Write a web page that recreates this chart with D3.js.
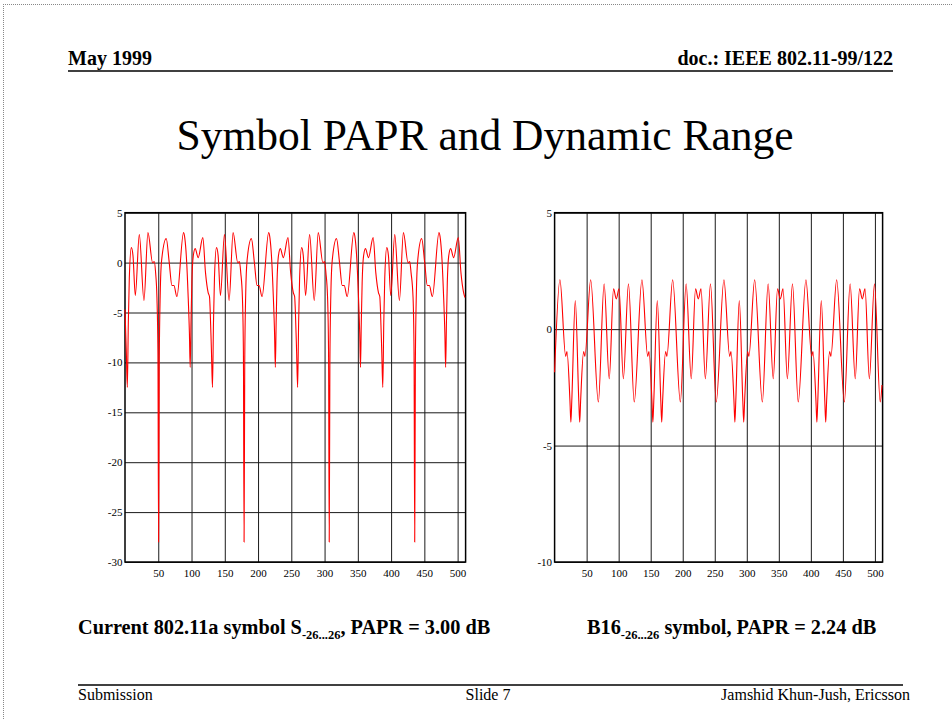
<!DOCTYPE html>
<html>
<head>
<meta charset="utf-8">
<style>
  body { margin: 0; background: #fff; }
  svg { display: block; font-family: "Liberation Serif", "Times New Roman", serif; }
  .tick line { stroke: #1a1a1a; stroke-width: 1; }
  .tick text { font-family: "Liberation Serif", "Times New Roman", serif; font-size: 11px; fill: #000; }
  .domain { display: none; }
  .wave { fill: none; stroke: #ff0000; stroke-width: 1.1; }
</style>
</head>
<body>
<svg width="952" height="720"></svg>

<script src="https://d3js.org/d3.v7.min.js"></script>
<script>
// [sample, dB]
const leftSignal = [
  [0,-4.7],[2,-9],[3.5,-12.5],[5,-6],[6.5,-1.5],[9.5,1.5],[12,0.7],[15.5,-3.3],[21.5,2.8],[28.5,-3.8],
  [34.5,3.0],[41.5,0.0],[44,0.1],[46,-1.0],[48,-3.5],[49.5,-9],[50.5,-28],[51.5,-10],[53,-3],[55,0.2],
  [62,2.4],[66.5,0],[70.5,-2.3],[73.5,-2.3],[78,-3.4],[88,3.0],[90,2.4],[92.5,0.3],[95,-3.5],[96.8,-7],
  [98,-10.5],[99.2,-6],[100.5,-2],[102.5,0.6],[105.5,1.4],[110,0.5],[117,2.5],[121,-1.0],[125,-3.0],[127,-3.4],
  [128,-4.7],[130,-9],[131.5,-12.5],[133,-6],[134.5,-1.5],[137.5,1.5],[140,0.7],[143.5,-3.3],[149.5,2.8],[156.5,-3.8],
  [162.5,3.0],[169.5,0.0],[172,0.1],[174,-1.0],[176.5,-3.5],[178,-9],[179,-28],[180,-10],[181.5,-3],[183.5,0.2],
  [190,2.4],[194.5,0],[198.5,-2.3],[201.5,-2.3],[206,-3.4],[216,3.0],[218,2.4],[220.5,0.3],[223,-3.5],[224.8,-7],
  [226,-10.5],[227.2,-6],[228.5,-2],[230.5,0.6],[233.5,1.4],[238,0.5],[245,2.5],[249,-1.0],[253,-3.0],[255,-3.4],
  [256,-4.7],[258,-9],[259.5,-12.5],[261,-6],[262.5,-1.5],[265.5,1.5],[268,0.7],[271.5,-3.3],[277.5,2.8],[284.5,-3.8],
  [290.5,3.0],[297.5,0.0],[300,0.1],[302,-1.0],[304.5,-3.5],[306,-9],[307,-28],[308,-10],[309.5,-3],[311.5,0.2],
  [318,2.4],[322.5,0],[326.5,-2.3],[329.5,-2.3],[334,-3.4],[344,3.0],[346,2.4],[348.5,0.3],[351,-3.5],[352.8,-7],
  [354,-10.5],[355.2,-6],[356.5,-2],[358.5,0.6],[361.5,1.4],[366,0.5],[373,2.5],[377,-1.0],[381,-3.0],[383,-3.4],
  [384,-4.7],[386,-9],[387.5,-12.5],[389,-6],[390.5,-1.5],[393.5,1.5],[396,0.7],[399.5,-3.3],[405.5,2.8],[412.5,-3.8],
  [418.5,3.0],[425.5,0.0],[428,0.1],[430,-1.0],[433,-3.5],[434.5,-9],[435.5,-28],[436.5,-10],[438,-3],[440,0.2],
  [446,2.4],[450.5,0],[454.5,-2.3],[457.5,-2.3],[462,-3.4],[472,3.0],[474,2.4],[476.5,0.3],[479,-3.5],[480.8,-7],
  [482,-10.5],[483.2,-6],[484.5,-2],[486.5,0.6],[489.5,1.4],[494,0.5],[501,2.5],[505,-1.0],[509,-3.0],[511,-3.5]
];

const rightSignal = [
  [0,-1.85],[8.3,2.12],[17.3,-1.17],[19.3,-0.96],[24,-3.1],[25.4,-4.0],[26.8,-3.1],[32.3,1.23],[37.8,-3.1],[39.2,-4.0],
  [40.6,-3.1],[45.3,-0.96],[47.3,-1.17],[56.3,2.12],[68.3,-3.13],[77.3,1.95],[85.3,-2.13],[92,1.73],[96.3,1.3],[100.6,1.73],
  [107.3,-2.13],[115.3,1.95],[124.3,-3.13],
  [136.3,2.12],[145.3,-1.17],[147.3,-0.96],[152,-3.1],[153.4,-4.0],[154.8,-3.1],[160.3,1.23],[165.8,-3.1],[167.2,-4.0],
  [168.6,-3.1],[173.3,-0.96],[175.3,-1.17],[184.3,2.12],[196.3,-3.13],[205.3,1.95],[213.3,-2.13],[220,1.73],[224.3,1.3],
  [228.6,1.73],[235.3,-2.13],[243.3,1.95],[252.3,-3.13],
  [264.3,2.12],[273.3,-1.17],[275.3,-0.96],[280,-3.1],[281.4,-4.0],[282.8,-3.1],[288.3,1.23],[293.8,-3.1],[295.2,-4.0],
  [296.6,-3.1],[301.3,-0.96],[303.3,-1.17],[312.3,2.12],[324.3,-3.13],[333.3,1.95],[341.3,-2.13],[348,1.73],[352.3,1.3],
  [356.6,1.73],[363.3,-2.13],[371.3,1.95],[380.3,-3.13],
  [392.3,2.12],[401.3,-1.17],[403.3,-0.96],[408,-3.1],[409.4,-4.0],[410.8,-3.1],[416.3,1.23],[421.8,-3.1],[423.2,-4.0],
  [424.6,-3.1],[429.3,-0.96],[431.3,-1.17],[440.3,2.12],[452.3,-3.13],[461.3,1.95],[469.3,-2.13],[476,1.73],[480.3,1.3],
  [484.6,1.73],[491.3,-2.13],[499.3,1.95],[508.3,-3.13],[511,-2.4]
];

const sampleTicks = [50, 100, 150, 200, 250, 300, 350, 400, 450, 500];
const leftDbTicks = [5, 0, -5, -10, -15, -20, -25, -30];
const rightDbTicks = [5, 0, -5, -10];

const svg = d3.select("svg");

// dotted slide border
svg.append("line").attr("x1", 3).attr("x2", 952).attr("y1", 4.5).attr("y2", 4.5)
  .attr("stroke", "#888").attr("stroke-dasharray", "1,1");
svg.append("line").attr("x1", 3.5).attr("x2", 3.5).attr("y1", 4).attr("y2", 720)
  .attr("stroke", "#888").attr("stroke-dasharray", "1,1");

// header
svg.append("text").attr("x", 68).attr("y", 64.5)
  .style("font-size", "20px").style("font-weight", "bold").text("May  1999");
svg.append("text").attr("x", 893).attr("y", 64.5).attr("text-anchor", "end")
  .style("font-size", "20px").style("font-weight", "bold").text("doc.: IEEE 802.11-99/122");
svg.append("line").attr("x1", 68).attr("x2", 893).attr("y1", 71).attr("y2", 71)
  .attr("stroke", "#000").attr("stroke-width", 1.5);

svg.append("text").attr("x", 485).attr("y", 150).attr("text-anchor", "middle")
  .style("font-size", "43.5px").text("Symbol PAPR and Dynamic Range");

function drawPanel(data, dbTicks, box) {
  let x = d3.scaleLinear().domain([0, 512]).range([box.x0, box.x1]);
  let y = d3.scaleLinear().domain([dbTicks[dbTicks.length - 1], 5]).range([box.y1, box.y0]);
  let w = box.x1 - box.x0, h = box.y1 - box.y0;

  let g = svg.append("g");

  g.append("g")
    .attr("transform", `translate(0,${box.y1})`)
    .call(d3.axisBottom(x).tickValues(sampleTicks).tickSize(-h).tickPadding(7).tickFormat(d => String(d)));

  g.append("g")
    .attr("transform", `translate(${box.x0},0)`)
    .call(d3.axisLeft(y).tickValues(dbTicks).tickSize(-w).tickPadding(2.5).tickFormat(d => String(d)));

  g.append("rect")
    .attr("x", box.x0).attr("y", box.y0).attr("width", w).attr("height", h)
    .attr("fill", "none").attr("stroke", "#000").attr("stroke-width", 1.5);

  let line = d3.line()
    .x(d => x(d[0]))
    .y(d => y(d[1]))
    .curve(d3.curveMonotoneX);

  g.append("path").datum(data).attr("class", "wave").attr("d", line);
}

drawPanel(leftSignal, leftDbTicks, { x0: 125, x1: 465.6, y0: 212.7, y1: 562 });
drawPanel(rightSignal, rightDbTicks, { x0: 554.6, x1: 882.6, y0: 212.7, y1: 562 });

// captions
let cap1 = svg.append("text").attr("x", 78).attr("y", 634)
  .style("font-size", "20.3px").style("font-weight", "bold");
cap1.append("tspan").text("Current 802.11a symbol S");
cap1.append("tspan").attr("dy", 5).style("font-size", "12.5px").text("-26...26");
cap1.append("tspan").attr("dy", -5).text(", PAPR = 3.00 dB");

let cap2 = svg.append("text").attr("x", 587).attr("y", 634)
  .style("font-size", "20.3px").style("font-weight", "bold");
cap2.append("tspan").text("B16");
cap2.append("tspan").attr("dy", 5).style("font-size", "12.5px").text("-26...26");
cap2.append("tspan").attr("dy", -5).text(" symbol, PAPR = 2.24 dB");

// footer
svg.append("line").attr("x1", 78).attr("x2", 903).attr("y1", 685).attr("y2", 685)
  .attr("stroke", "#000").attr("stroke-width", 1.5);
svg.append("text").attr("x", 78).attr("y", 699.5).style("font-size", "16px").text("Submission");
svg.append("text").attr("x", 488).attr("y", 699.5).attr("text-anchor", "middle")
  .style("font-size", "16px").text("Slide 7");
svg.append("text").attr("x", 910).attr("y", 699.5).attr("text-anchor", "end")
  .style("font-size", "16px").text("Jamshid Khun-Jush, Ericsson");
</script>
</body>
</html>
